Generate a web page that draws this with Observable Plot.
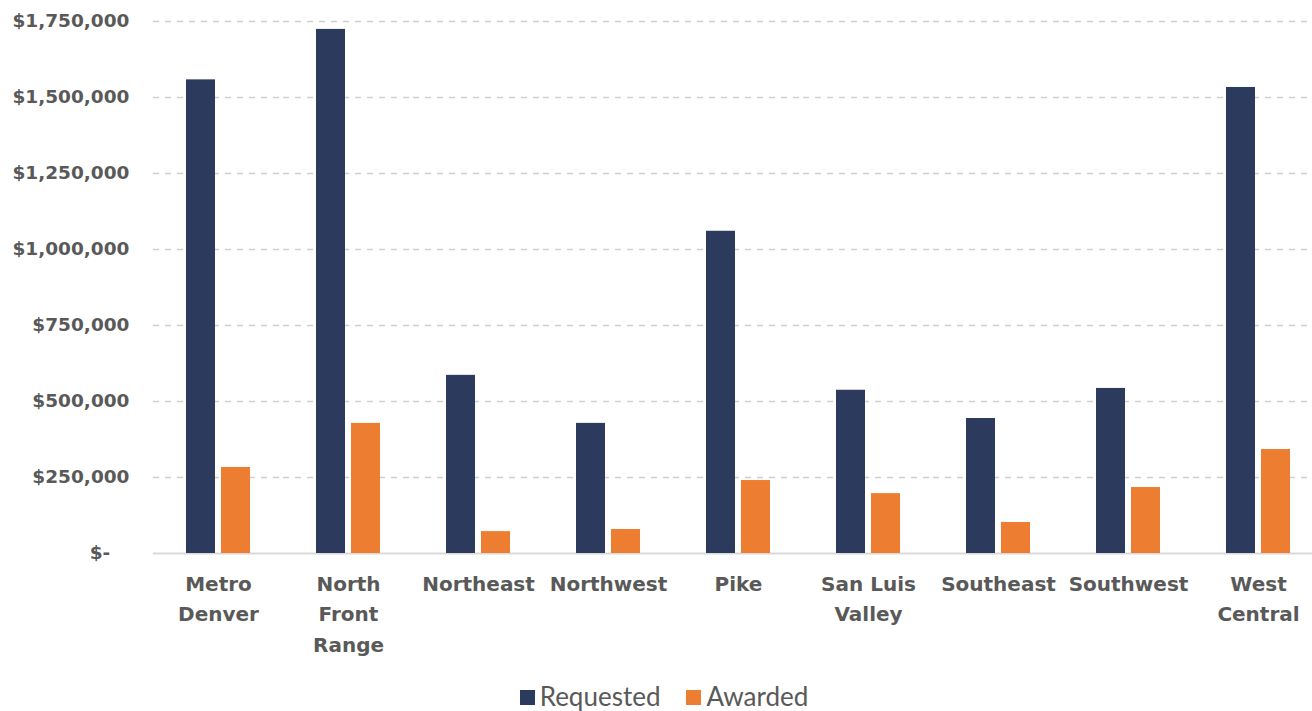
<!DOCTYPE html>
<html>
<head>
<meta charset="utf-8">
<script src="https://cdn.jsdelivr.net/npm/d3@7"></script>
<script src="https://cdn.jsdelivr.net/npm/@observablehq/plot@0.6"></script>
<style>
  html, body { margin: 0; padding: 0; background: #fff; overflow: hidden; width: 1312px; height: 711px; }
  #chart svg { display: block; max-width: none; }
  .legend { display: flex; justify-content: center; align-items: center; height: 46px; margin-left: 16px; padding-top: 8px;
    font-family: Lato, "Open Sans", sans-serif; font-size: 26px; color: #595959; }
  .legend span.sw { display: inline-block; width: 15px; height: 15px; margin-right: 5px; margin-top: 3px; }
  .legend .item { display: flex; align-items: center; margin: 0 13px; }
</style>
</head>
<body>
<div id="chart"></div>
<div class="legend">
  <div class="item"><span class="sw" style="background:#2c3a5d"></span>Requested</div>
  <div class="item"><span class="sw" style="background:#ed7d31"></span>Awarded</div>
</div>
<script>
const regions = ["Metro Denver", "North Front Range", "Northeast", "Northwest", "Pike", "San Luis Valley", "Southeast", "Southwest", "West Central"];
const regionLabels = ["Metro\nDenver", "North\nFront\nRange", "Northeast", "Northwest", "Pike", "San Luis\nValley", "Southeast", "Southwest", "West\nCentral"];
const requested = [1558000, 1724000, 586000, 428000, 1060000, 537000, 444000, 543000, 1533000];
const awarded = [283000, 428000, 72000, 79000, 240000, 197000, 102000, 217000, 342000];
const series = ["Requested", "Awarded"];
const colors = ["#2c3a5d", "#ed7d31"];
const yTicks = [0, 250000, 500000, 750000, 1000000, 1250000, 1500000, 1750000];

const data = [];
regions.forEach((r, i) => {
  data.push({region: r, series: "Requested", value: requested[i]});
  data.push({region: r, series: "Awarded", value: awarded[i]});
});
const labelOf = new Map(regions.map((r, i) => [r, regionLabels[i]]));
const fmt = v => v === 0 ? "$-\u00a0\u00a0\u00a0" : "$" + d3.format(",")(v);

const plot = Plot.plot({
  width: 1324,
  height: 665,
  marginLeft: 152,
  marginRight: 0,
  marginTop: 21,
  marginBottom: 112,
  style: {fontFamily: "'DejaVu Sans', sans-serif", background: "#fff"},
  fx: {domain: regions, padding: 0, axis: null},
  x: {domain: series, paddingInner: 0.167, paddingOuter: 0.9, axis: null},
  y: {domain: [0, 1750000], axis: null},
  color: {domain: series, range: colors},
  marks: [
    Plot.gridY(yTicks.filter(d => d > 0), {stroke: "#cfcfcf", strokeOpacity: 1, strokeWidth: 1.5, strokeDasharray: "6,6"}),
    Plot.ruleY([0], {stroke: "#d9d9d9", strokeWidth: 2}),
    Plot.barY(data, {fx: "region", x: "series", y: "value", fill: "series"}),
    Plot.axisY({ticks: yTicks, tickSize: 0, tickPadding: 24, tickFormat: fmt, fontSize: 18.5, fontWeight: "bold", fill: "#595959", label: null}),
    Plot.axisFx({anchor: "bottom", tickSize: 0, tickPadding: 16, tickFormat: d => labelOf.get(d), fontSize: 20, fontWeight: "bold", fill: "#595959", lineHeight: 1.52, label: null})
  ]
});
document.getElementById("chart").appendChild(plot);
</script>
</body>
</html>
